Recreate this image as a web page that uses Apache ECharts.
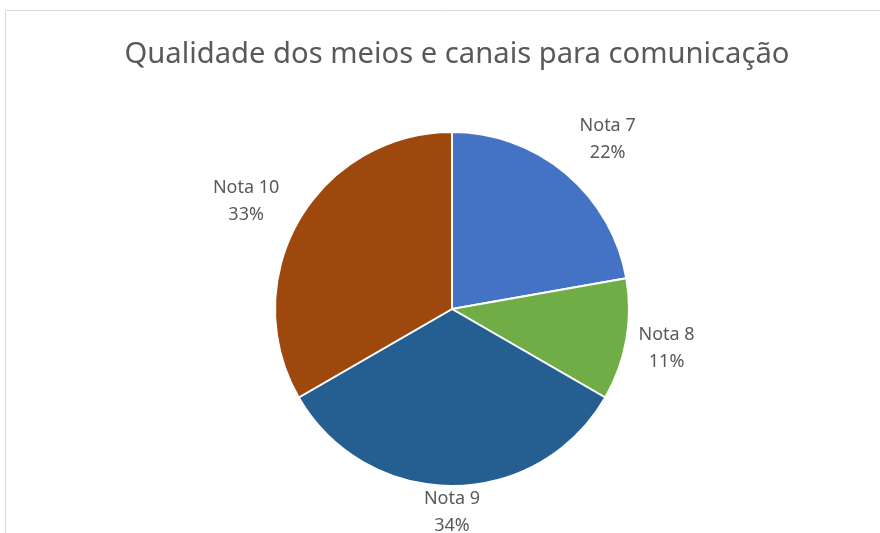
<!DOCTYPE html>
<html><head><meta charset="utf-8">
<script src="https://cdn.jsdelivr.net/npm/echarts@6/dist/echarts.min.js"></script>
<style>html,body{margin:0;padding:0;background:#fff}#c{width:880px;height:533px}</style>
</head><body><div id="c"></div>
<script>
const titleText = 'Qualidade dos meios e canais para comunicação';
const categories = ['Nota 7', 'Nota 8', 'Nota 9', 'Nota 10'];
const values = [2, 1, 3, 3];
const colors = ['#4472C4', '#70AD47', '#255E91', '#9E480E'];
const labelOffsets = [[11, 3], [-7, 0], [0, -22], [-11, 5]];

const data = categories.map((c, i) => ({ name: c, value: values[i], itemStyle: { color: colors[i] } }));
const labelData = categories.map((c, i) => ({ name: c, value: values[i], label: { offset: labelOffsets[i] } }));

const chart = echarts.init(document.getElementById('c'), null, { renderer: 'canvas' });
chart.setOption({
  backgroundColor: '#fff',
  animation: false,
  title: {
    text: titleText, left: 452, top: 35, textAlign: 'center',
    textStyle: { fontFamily: 'Noto Sans', fontSize: 29.2, fontWeight: 'normal', color: '#595959' }
  },
  graphic: [
    { type: 'line', shape: { x1: 5.5, y1: 10.5, x2: 880, y2: 10.5 }, style: { stroke: '#d9d9d9', lineWidth: 1 } },
    { type: 'line', shape: { x1: 5.5, y1: 10.5, x2: 5.5, y2: 533 }, style: { stroke: '#d9d9d9', lineWidth: 1 } }
  ],
  series: [
    {
      type: 'pie', center: [452, 309], radius: [0, 177], startAngle: 90, clockwise: true,
      data: data, label: { show: false }, labelLine: { show: false },
      itemStyle: { borderColor: '#fff', borderWidth: 2 }, emphasis: { disabled: true }, silent: true
    },
    {
      type: 'pie', center: [452, 309], radius: [212, 232], startAngle: 90, clockwise: true,
      percentPrecision: 0,
      data: labelData, silent: true, emphasis: { disabled: true },
      itemStyle: { color: 'rgba(0,0,0,0)' },
      labelLine: { show: false },
      label: {
        show: true, position: 'inside', formatter: '{b}\n{d}%',
        fontFamily: 'Noto Sans', fontSize: 18, lineHeight: 27, color: '#595959'
      }
    }
  ]
});
</script></body></html>
